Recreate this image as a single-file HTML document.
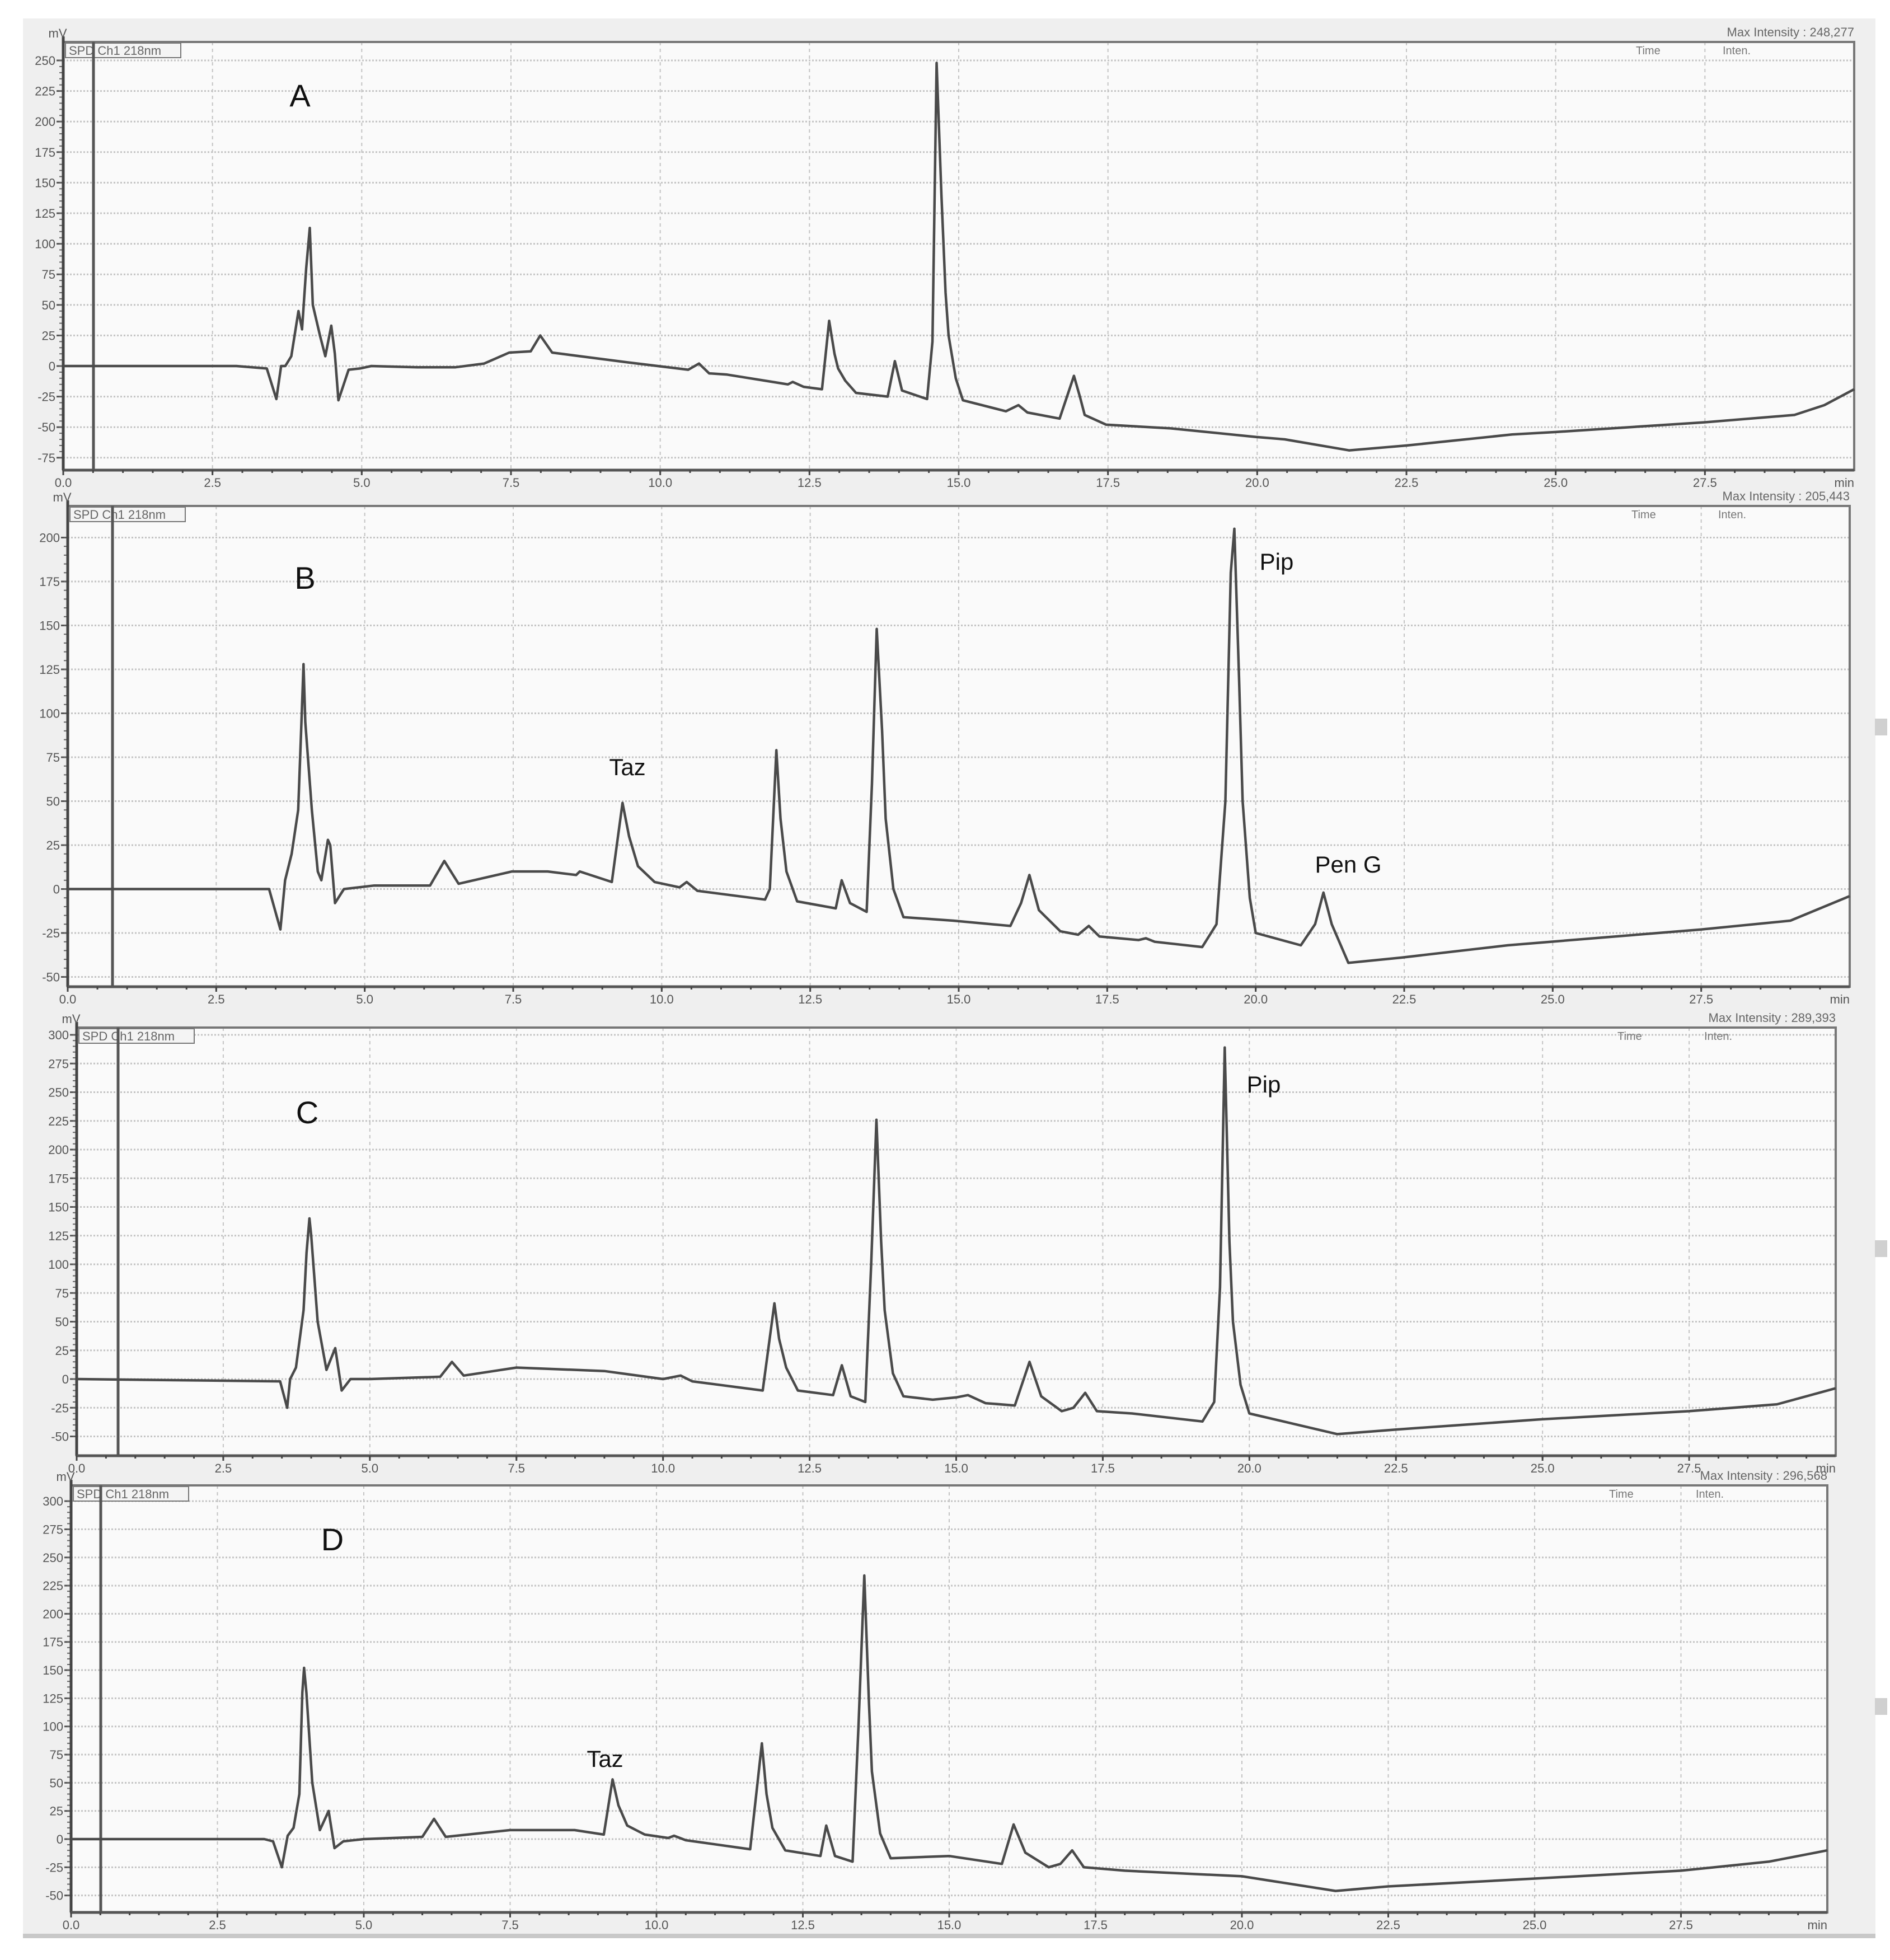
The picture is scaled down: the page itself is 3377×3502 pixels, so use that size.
<!DOCTYPE html>
<html><head><meta charset="utf-8"><style>
html,body{margin:0;padding:0;background:#fff;}
svg{display:block;font-family:"Liberation Sans",sans-serif;}
</style></head><body>
<svg id="chart" width="3377" height="3502" viewBox="0 0 3377 3502" xmlns="http://www.w3.org/2000/svg">
<rect x="0" y="0" width="3377" height="3502" fill="#ffffff"/>
<rect x="41" y="33" width="3310" height="3422" fill="#efefef"/>
<rect x="41" y="3455" width="3310" height="8" fill="#c8c8c8"/>
<g id="panels"></g>
</svg>
<script>
// ---- Panel A data (time min, mV)
const aTimes = [0,2.9,3.41,3.57,3.65,3.72,3.82,3.94,4.0,4.07,4.13,4.18,4.3,4.39,4.49,4.55,4.61,4.78,4.97,5.16,5.93,6.57,7.05,7.47,7.83,7.99,8.19,9.45,10.47,10.65,10.82,11.12,12.14,12.22,12.4,12.71,12.83,12.92,12.98,13.1,13.28,13.81,13.93,14.05,14.47,14.56,14.63,14.71,14.78,14.83,14.95,15.07,15.79,16.0,16.15,16.69,16.93,17.03,17.11,17.47,18.55,19.98,20.46,21.54,22.5,24.27,25.0,27.5,29.0,29.5,30.0];
const aValues = [0,0,-2,-27,0,0,8,45,30,80,113,50,25,8,33,10,-28,-3,-2,0,-1,-1,2,11,12,25,11,3,-3,2,-6,-7,-15,-13,-17,-19,37,10,-2,-12,-22,-25,4,-20,-27,20,248,140,60,25,-10,-28,-37,-32,-38,-43,-8,-25,-40,-48,-51,-58,-60,-69,-65,-56,-54,-46,-40,-32,-19];
// ---- Panel B data
const bTimes = [0,3.39,3.58,3.66,3.77,3.88,3.94,3.97,4.0,4.11,4.21,4.27,4.38,4.42,4.5,4.65,5.16,6.1,6.34,6.58,7.48,8.08,8.56,8.62,9.16,9.34,9.45,9.6,9.88,10.3,10.42,10.6,11.74,11.82,11.93,12.0,12.1,12.28,12.93,13.03,13.17,13.45,13.54,13.62,13.71,13.77,13.9,14.07,14.91,15.87,16.05,16.19,16.35,16.71,17.01,17.19,17.37,18.03,18.15,18.3,19.1,19.34,19.49,19.58,19.64,19.72,19.78,19.9,20.0,20.76,21.0,21.14,21.28,21.56,22.45,24.24,27.5,29.0,30.0];
const bValues = [0,0,-23,5,20,45,100,128,95,45,10,5,28,25,-8,0,2,2,16,3,10,10,8,10,4,49,30,13,4,1,4,-1,-6,0,79,40,10,-7,-11,5,-8,-13,60,148,90,40,0,-16,-18,-21,-8,8,-12,-24,-26,-21,-27,-29,-28,-30,-33,-20,50,180,205,120,50,-5,-25,-32,-20,-2,-20,-42,-39,-32,-23,-18,-4];
// ---- Panel C data
const cTimes = [0,3.47,3.59,3.64,3.74,3.87,3.92,3.97,4.0,4.11,4.26,4.41,4.52,4.67,5.0,6.2,6.4,6.6,7.5,9.0,10.0,10.3,10.5,11.7,11.9,11.98,12.1,12.3,12.9,13.05,13.2,13.45,13.55,13.64,13.72,13.78,13.92,14.1,14.6,15.0,15.2,15.5,16.0,16.25,16.45,16.8,17.0,17.2,17.4,18.0,19.2,19.4,19.5,19.58,19.66,19.72,19.85,20.0,21.5,22.5,25.0,27.5,29.0,30.0];
const cValues = [0,-2,-25,0,10,60,110,140,125,50,8,27,-10,0,0,2,15,3,10,7,0,3,-2,-10,66,35,10,-10,-14,12,-15,-20,100,226,120,60,5,-15,-18,-16,-14,-21,-23,15,-15,-28,-25,-12,-28,-30,-37,-20,80,289,120,50,-5,-30,-48,-44,-35,-28,-22,-8];
// ---- Panel D data
const dTimes = [0,3.3,3.45,3.6,3.7,3.8,3.9,3.95,3.98,4.02,4.12,4.25,4.4,4.5,4.65,5.0,6.0,6.2,6.4,7.5,8.6,9.1,9.25,9.35,9.5,9.8,10.2,10.3,10.5,11.6,11.8,11.88,11.98,12.2,12.8,12.9,13.05,13.35,13.45,13.55,13.63,13.68,13.82,14.0,15.0,15.9,16.1,16.3,16.7,16.9,17.1,17.3,18.0,20.0,21.6,22.5,25.0,27.5,29.0,29.8,30.0];
const dValues = [0,0,-2,-25,3,10,40,130,152,130,50,8,25,-8,-2,0,2,18,2,8,8,4,53,30,12,4,1,3,-1,-9,85,40,10,-10,-15,12,-15,-20,100,234,120,60,5,-17,-15,-22,13,-12,-25,-22,-10,-25,-28,-33,-46,-42,-35,-28,-20,-12,-10];
// ---- tick labels
const xTickLabels = ["0.0","2.5","5.0","7.5","10.0","12.5","15.0","17.5","20.0","22.5","25.0","27.5"];
const aYTicks = [250,225,200,175,150,125,100,75,50,25,0,-25,-50,-75];
const bYTicks = [200,175,150,125,100,75,50,25,0,-25,-50];
const cYTicks = [300,275,250,225,200,175,150,125,100,75,50,25,0,-25,-50];
const dYTicks = [300,275,250,225,200,175,150,125,100,75,50,25,0,-25,-50];
const maxLabels = ["Max Intensity : 248,277","Max Intensity : 205,443","Max Intensity : 289,393","Max Intensity : 296,568"];

const NS = "http://www.w3.org/2000/svg";
const root = document.getElementById('panels');
function mk(tag, attrs, parent, text){
  const e = document.createElementNS(NS, tag);
  for (const k in attrs) e.setAttribute(k, attrs[k]);
  if (text !== undefined) e.textContent = text;
  parent.appendChild(e);
  return e;
}
const layouts = [
  {id:'a', x0:113, x1:3313, top:75, bottom:840, y0:654, k:2.184, marker:167, times:aTimes, vals:aValues, ticks:aYTicks, letter:'A', lx:536, ly:190},
  {id:'b', x0:121, x1:3305, top:904, bottom:1763, y0:1588.5, k:3.14, marker:201, times:bTimes, vals:bValues, ticks:bYTicks, letter:'B', lx:545, ly:1052},
  {id:'c', x0:137, x1:3280, top:1836, bottom:2601, y0:2464, k:2.05, marker:211, times:cTimes, vals:cValues, ticks:cYTicks, letter:'C', lx:549, ly:2007},
  {id:'d', x0:127, x1:3265, top:2654, bottom:3417, y0:3286, k:2.013, marker:180, times:dTimes, vals:dValues, ticks:dYTicks, letter:'D', lx:594, ly:2770}
];
layouts.forEach((L, pi) => {
  const g = mk('g', {}, root);
  
  
  const xs = t => L.x0 + (L.x1 - L.x0) * t / 30;
  const ys = v => L.y0 - v * L.k;
  const pa = mk('rect', {x:L.x0, y:L.top, width:L.x1-L.x0, height:L.bottom-L.top, fill:'#fafafa'}, g);
  
  
  for (let i = 1; i < 12; i++) {
    const gl = mk('line', {x1:xs(i*2.5), x2:xs(i*2.5), y1:L.top, y2:L.bottom, stroke:'#c4c4c4', 'stroke-width':2, 'stroke-dasharray':'6 6'}, g);
    
    
  }
  L.ticks.forEach(v => {
    const gl = mk('line', {x1:L.x0, x2:L.x1, y1:ys(v), y2:ys(v), stroke:'#c4c4c4', 'stroke-width':3, 'stroke-dasharray':'3 3'}, g);
    
    
    const tl = mk('text', {x:L.x0-14, y:ys(v)+8, 'font-size':22, 'text-anchor':'end', fill:'#555'}, g, String(v));
    
    
    mk('line', {x1:L.x0-12, x2:L.x0, y1:ys(v), y2:ys(v), stroke:'#555', 'stroke-width':3}, g);
  });
  const vmin = L.ticks[L.ticks.length-1], vmax = L.ticks[0];
  for (let v = vmin; v <= vmax; v += 5) mk('line', {x1:L.x0-7, x2:L.x0, y1:ys(v), y2:ys(v), stroke:'#666', 'stroke-width':2}, g);
  const fr = mk('rect', {x:L.x0, y:L.top, width:L.x1-L.x0, height:L.bottom-L.top, fill:'none', stroke:'#777', 'stroke-width':4}, g);
  
  
  mk('line', {x1:L.x0, x2:L.x0, y1:L.top-10, y2:L.bottom, stroke:'#444', 'stroke-width':5}, g);
  mk('line', {x1:L.x0, x2:L.x1, y1:L.bottom, y2:L.bottom, stroke:'#555', 'stroke-width':5}, g);
  xTickLabels.forEach((lab, i) => {
    const t = i * 2.5;
    mk('line', {x1:xs(t), x2:xs(t), y1:L.bottom, y2:L.bottom+9, stroke:'#444', 'stroke-width':3}, g);
    const tl = mk('text', {x:xs(t), y:L.bottom+30, 'font-size':22, 'text-anchor':'middle', fill:'#555'}, g, lab);
    
    
  });
  for (let t = 0.5; t < 30; t += 0.5) mk('line', {x1:xs(t), x2:xs(t), y1:L.bottom, y2:L.bottom+5, stroke:'#444', 'stroke-width':3}, g);
  const mn = mk('text', {x:L.x1, y:L.bottom+30, 'font-size':22, 'text-anchor':'end', fill:'#555'}, g, 'min');
  
  
  const mv = mk('text', {x:L.x0-10, y:L.top-8, 'font-size':22, 'text-anchor':'middle', fill:'#555'}, g, 'mV');
  
  
  const cb = mk('rect', {x:L.x0+4, y:L.top+2, width:206, height:26, fill:'#f4f4f4', stroke:'#777', 'stroke-width':2}, g);
  
  
  const ct = mk('text', {x:L.x0+10, y:L.top+23, 'font-size':22, fill:'#666'}, g, 'SPD Ch1 218nm');
  
  
  const mx = mk('text', {x:L.x1, y:L.top-10, 'font-size':22, 'text-anchor':'end', fill:'#666'}, g, maxLabels[pi]);
  
  
  const tm = mk('text', {x:L.x1-390, y:L.top+22, 'font-size':20, fill:'#777'}, g, 'Time');
  
  
  const it = mk('text', {x:L.x1-235, y:L.top+22, 'font-size':20, fill:'#777'}, g, 'Inten.');
  
  
  const mkr = mk('line', {x1:L.marker, x2:L.marker, y1:L.top, y2:L.bottom, stroke:'#555', 'stroke-width':5}, g);
  
  
  let d = '';
  L.times.forEach((t, i) => { d += (i ? 'L' : 'M') + xs(t).toFixed(1) + ' ' + ys(L.vals[i]).toFixed(1); });
  const tr = mk('path', {d:d, fill:'none', stroke:'#4a4a4a', 'stroke-width':4.5, 'stroke-linejoin':'round'}, g);
  
  
  const lt = mk('text', {x:L.lx, y:L.ly, 'font-size':56, 'text-anchor':'middle', fill:'#111'}, g, L.letter);
  
  
  if (pi > 0) {
    const sb = mk('rect', {x:3350, y:L.top+380, width:22, height:30, fill:'#d0d0d0'}, g);
    
    
  }
});
const anns = [["Taz",1121,1385],["Pip",2281,1018],["Pen G",2409,1559],["Pip",2258,1952],["Taz",1081,3157]];
anns.forEach(a => {
  const t = mk('text', {x:a[1], y:a[2], 'font-size':42, 'text-anchor':'middle', fill:'#111'}, root, a[0]);
  
  
});
</script>
</body></html>
